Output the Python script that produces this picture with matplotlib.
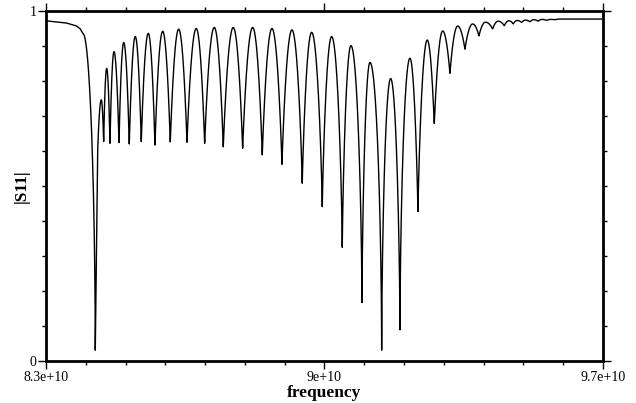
import numpy as np
import matplotlib
matplotlib.use('Agg')
import matplotlib.pyplot as plt
from matplotlib.ticker import MultipleLocator

plt.rcParams['font.family'] = 'Liberation Serif'

# turning points of |S11| (GHz, value, 1 = notch bottom)
freq_ghz = [83.000, 83.503, 83.754, 83.855, 83.930, 84.239, 84.297, 84.390,
            84.450, 84.525, 84.608, 84.709, 84.835, 84.953, 85.093, 85.244,
            85.395, 85.571, 85.739, 85.933, 86.124, 86.335, 86.544, 86.777,
            86.988, 87.230, 87.456, 87.707, 87.943, 88.195, 88.436, 88.680,
            88.931, 89.182, 89.441, 89.677, 89.944, 90.180, 90.447, 90.665,
            90.942, 91.143, 91.437, 91.663, 91.897, 92.148, 92.349, 92.583,
            92.759, 92.970, 93.153, 93.347, 93.530, 93.724, 93.882, 94.045,
            94.226, 94.367, 94.518, 94.636, 94.744, 94.845, 94.955, 95.051,
            95.164, 95.259, 95.372, 95.465, 95.584, 95.679, 95.792, 95.918,
            97.000]
s11 = [0.972, 0.966, 0.958, 0.950, 0.935, 0.031, 0.595, 0.746,
       0.627, 0.836, 0.622, 0.884, 0.624, 0.910, 0.620, 0.927,
       0.627, 0.936, 0.617, 0.942, 0.626, 0.948, 0.625, 0.950,
       0.622, 0.953, 0.612, 0.953, 0.608, 0.953, 0.589, 0.950,
       0.562, 0.946, 0.508, 0.939, 0.441, 0.927, 0.325, 0.901,
       0.167, 0.853, 0.031, 0.807, 0.089, 0.865, 0.427, 0.917,
       0.679, 0.943, 0.822, 0.957, 0.891, 0.963, 0.929, 0.968,
       0.949, 0.971, 0.958, 0.972, 0.963, 0.973, 0.967, 0.974,
       0.969, 0.975, 0.971, 0.976, 0.973, 0.976, 0.975, 0.977,
       0.977]
is_dip = [0, 0, 0, 0, 0, 1, 1, 0, 1, 0, 1, 0, 1, 0, 1, 0,
          1, 0, 1, 0, 1, 0, 1, 0, 1, 0, 1, 0, 1, 0, 1, 0,
          1, 0, 1, 0, 1, 0, 1, 0, 1, 0, 1, 0, 1, 0, 1, 0,
          1, 0, 1, 0, 1, 0, 1, 0, 1, 0, 1, 0, 1, 0, 1, 0,
          1, 0, 1, 0, 1, 0, 1, 0, 0]

# join the turning points: pointed at a notch, rounded at a crest
xs, ys = [], []
for i in range(len(freq_ghz) - 1):
    f0, f1 = freq_ghz[i], freq_ghz[i + 1]
    v0, v1 = s11[i], s11[i + 1]
    t = np.linspace(0, 1, 200, endpoint=False)
    if is_dip[i] == is_dip[i + 1]:
        y = v0 + (v1 - v0) * t
    else:
        q = np.clip(1.25 - 0.8 * abs(v1 - v0), 0.55, 1.0)   # deeper notch -> thinner
        if is_dip[i]:
            y = v0 + (v1 - v0) * (1 - (1 - t) ** 2) ** q
        else:
            y = v1 + (v0 - v1) * (1 - t ** 2) ** q
    xs.append(f0 + (f1 - f0) * t)
    ys.append(y)
xs.append([freq_ghz[-1]])
ys.append([s11[-1]])
f = np.concatenate(xs) * 1e9
y = np.concatenate(ys)

fig = plt.figure(figsize=(6.36, 4.03), dpi=100)
ax = fig.add_axes([0.0723, 0.1042, 0.8758, 0.8685])
ax.plot(f, y, color='black', lw=1.0)

ax.set_xlim(8.3e10, 9.7e10)
ax.set_ylim(0, 1)
ax.set_xticks([8.3e10, 9e10, 9.7e10])
ax.set_xticklabels(['8.3e+10', '9e+10', '9.7e+10'])
ax.xaxis.set_minor_locator(MultipleLocator(1e9))
ax.set_yticks([0, 1])
ax.set_yticklabels(['0', '1'])
ax.yaxis.set_minor_locator(MultipleLocator(0.1))

for sp in ax.spines.values():
    sp.set_linewidth(2)

ax.tick_params(which='both', direction='out', labelsize=10, top=True, right=True, width=1)
ax.tick_params(which='major', length=6, pad=1)
ax.tick_params(which='minor', length=3)

ax.set_xlabel('frequency', fontsize=12.5, fontweight='bold', labelpad=1)
ax.set_ylabel('|S11|', fontsize=12.5, fontweight='bold', labelpad=0)

fig.savefig('out.png', dpi=100)
